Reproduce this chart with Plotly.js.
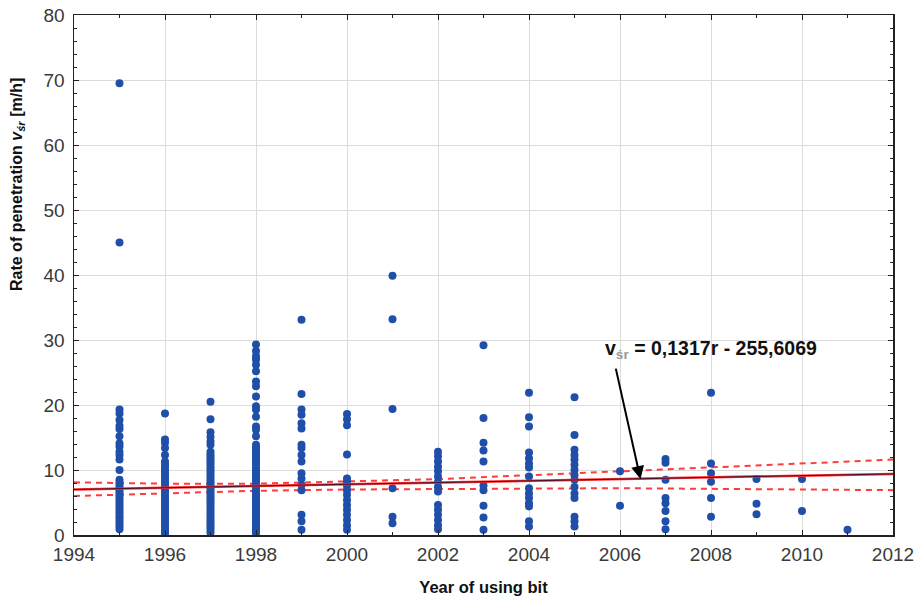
<!DOCTYPE html>
<html>
<head>
<meta charset="utf-8">
<script src="https://cdn.plot.ly/plotly-3.0.1.min.js"></script>
<style>html,body{margin:0;padding:0;background:#fff}#chart{width:920px;height:601px}</style>
</head>
<body>
<div id="chart"></div>
<script>
// Rate of penetration values per year of using bit
const years = [1995, 1996, 1997, 1998, 1999, 2000, 2001, 2002, 2003, 2004, 2005, 2006, 2007, 2008, 2009, 2010, 2011];
const v1995 = [69.5, 45.0, 19.3, 18.7, 17.7, 16.8, 16.3, 15.2, 14.1, 13.6, 12.8, 12.3, 11.6, 10.0, 8.5, 8.1, 7.7, 7.3, 6.9, 6.5, 6.1, 5.7, 5.3, 4.9, 4.5, 4.1, 3.7, 3.3, 2.9, 2.5, 2.1, 1.7, 1.3, 0.9];
const v1996 = [18.7, 14.7, 14.2, 13.4, 12.3, 11.3, 10.9, 10.5, 10.1, 9.7, 9.3, 8.9, 8.5, 8.1, 7.7, 7.3, 6.9, 6.5, 6.1, 5.7, 5.3, 4.9, 4.5, 4.1, 3.7, 3.3, 2.9, 2.5, 2.1, 1.7, 1.3, 0.9, 0.5, 0.2];
const v1997 = [20.5, 17.8, 15.8, 15.1, 14.4, 13.9, 12.8, 12.4, 12.0, 11.6, 11.2, 10.8, 10.4, 10.0, 9.6, 9.2, 8.8, 8.4, 8.0, 7.6, 7.2, 6.8, 6.4, 6.0, 5.6, 5.2, 4.8, 4.4, 4.0, 3.6, 3.2, 2.8, 2.4, 2.0, 1.6, 1.2, 0.8, 0.4];
const v1998 = [29.3, 28.3, 27.5, 27.0, 26.2, 25.2, 23.6, 22.9, 21.3, 19.8, 19.3, 18.2, 16.7, 16.2, 15.2, 13.9, 13.4, 13.0, 12.6, 12.2, 11.8, 11.4, 11.0, 10.6, 10.2, 9.8, 9.4, 9.0, 8.6, 8.2, 7.8, 7.4, 7.0, 6.6, 6.2, 5.8, 5.4, 5.0, 4.6, 4.2, 3.8, 3.4, 3.0, 2.6, 2.2, 1.8, 1.4, 1.0, 0.6, 0.3];
const v1999 = [33.1, 21.7, 19.3, 18.5, 17.2, 16.4, 13.9, 13.4, 12.3, 11.3, 9.5, 8.7, 7.7, 6.9, 3.1, 2.1, 0.8];
const v2000 = [18.6, 17.8, 16.9, 12.4, 8.7, 8.2, 7.6, 6.9, 6.2, 5.4, 4.6, 3.9, 3.1, 2.3, 1.5, 0.8];
const v2001 = [39.9, 33.2, 19.4, 7.2, 2.8, 1.8];
const v2002 = [12.8, 12.1, 11.3, 10.5, 9.8, 9.0, 8.2, 7.4, 6.7, 4.6, 3.9, 3.1, 2.3, 1.5, 0.9];
const v2003 = [29.2, 18.0, 14.2, 13.0, 11.3, 7.6, 6.9, 4.5, 2.7, 0.8];
const v2004 = [21.9, 18.1, 16.7, 12.7, 11.8, 11.0, 10.4, 9.0, 7.2, 6.4, 5.7, 4.9, 4.4, 2.1, 1.3];
const v2005 = [21.2, 15.4, 13.1, 12.3, 11.6, 10.8, 10.0, 9.2, 8.5, 7.4, 6.4, 5.7, 2.8, 2.1, 1.3];
const v2006 = [9.8, 4.5];
const v2007 = [11.7, 11.1, 8.5, 5.7, 4.9, 3.7, 2.1, 0.9];
const v2008 = [21.9, 11.0, 9.5, 8.2, 5.7, 2.8];
const v2009 = [8.6, 4.8, 3.2];
const v2010 = [8.6, 3.7];
const v2011 = [0.8];
const columns = [v1995, v1996, v1997, v1998, v1999, v2000, v2001, v2002, v2003, v2004, v2005, v2006, v2007, v2008, v2009, v2010, v2011];

// Fitted line v = 0,1317r - 255,6069 and its confidence band
const fitX = [1994, 2012];
const fitY = [7.0, 9.4];
const bandX = [1994, 1996, 1998, 2000, 2002, 2004, 2006, 2008, 2010, 2012];
const bandUpper = [8.1, 7.9, 7.9, 8.2, 8.6, 9.2, 9.8, 10.4, 11.0, 11.6];
const bandLower = [6.0, 6.4, 6.8, 7.0, 7.1, 7.2, 7.2, 7.1, 7.0, 6.9];

const xTicks = [1994, 1996, 1998, 2000, 2002, 2004, 2006, 2008, 2010, 2012];
const yTicks = [0, 10, 20, 30, 40, 50, 60, 70, 80];

const px = [], py = [];
columns.forEach((col, i) => col.forEach(v => { px.push(years[i]); py.push(v); }));

const traces = [
  {x: bandX, y: bandUpper, mode: 'lines', line: {color: '#ff3b3b', width: 2, dash: '6px,5px'}, hoverinfo: 'skip'},
  {x: bandX, y: bandLower, mode: 'lines', line: {color: '#ff3b3b', width: 2, dash: '6px,5px'}, hoverinfo: 'skip'},
  {x: px, y: py, mode: 'markers', marker: {color: '#1f4fa8', size: 8}},
  {x: fitX, y: fitY, mode: 'lines', line: {color: '#ff2d2d', width: 2.5}},
  {x: fitX, y: fitY, mode: 'lines', line: {color: '#4a1028', width: 1}}
];

const axisFont = {family: 'Liberation Sans, Arial, sans-serif', size: 19, color: '#3a3a3a'};
const layout = {
  width: 920, height: 601,
  margin: {l: 74, r: 27, t: 15, b: 66},
  paper_bgcolor: '#fff', plot_bgcolor: '#fff',
  showlegend: false,
  xaxis: {
    range: [1994, 2012], tickvals: xTicks, ticktext: xTicks.map(String),
    showgrid: true, gridcolor: '#dcdcdc', gridwidth: 1, zeroline: false,
    showline: true, linecolor: '#222', linewidth: 1.5, mirror: 'ticks',
    ticks: 'inside', ticklen: 5, tickcolor: '#222',
    minor: {dtick: 1, ticks: 'inside', ticklen: 3, tickcolor: '#222', showgrid: false},
    tickfont: axisFont, ticklabelstandoff: 2,
    title: {text: 'Year of using bit', font: {family: 'Liberation Sans, Arial, sans-serif', size: 16.5, color: '#111', weight: 'bold'}, standoff: 17}
  },
  yaxis: {
    range: [0, 80], tickvals: yTicks, ticktext: yTicks.map(String),
    showgrid: true, gridcolor: '#dcdcdc', gridwidth: 1, zeroline: false,
    showline: true, linecolor: '#222', linewidth: 1.5, mirror: 'ticks',
    ticks: 'inside', ticklen: 5, tickcolor: '#222',
    minor: {dtick: 2, ticks: 'inside', ticklen: 3, tickcolor: '#222', showgrid: false},
    tickfont: axisFont, ticklabelstandoff: 4
  },
  annotations: [{
    x: 2006.45, y: 8.6, xref: 'x', yref: 'y',
    ax: -25, ay: -112,
    text: '', showarrow: true, arrowhead: 2, arrowsize: 1.3, arrowwidth: 2, arrowcolor: '#000'
  }, {
    x: 2008.0, y: 28.5, xref: 'x', yref: 'y',
    text: 'v<sub><span style="color:#999">śr</span></sub> = 0,1317r - 255,6069', showarrow: false,
    font: {family: 'Liberation Sans, Arial, sans-serif', size: 19.5, color: '#111', weight: 'bold'}
  }, {
    x: 0, y: 0, xref: 'paper', yref: 'paper', textangle: -90, showarrow: false,
    xanchor: 'center', yanchor: 'middle',
    text: 'Rate of penetration <i>v<sub>śr</sub></i> [m/h]',
    font: {family: 'Liberation Sans, Arial, sans-serif', size: 16, color: '#111', weight: 'bold'}
  }]
};
// y-axis title placed at a pixel position via paper coordinates
const plotW = 920 - 74 - 27, plotH = 601 - 15 - 66;
layout.annotations[2].x = (18 - 74) / plotW;
layout.annotations[2].y = (601 - 66 - 185) / plotH;

Plotly.newPlot('chart', traces, layout, {displayModeBar: false, staticPlot: true});
</script>
</body>
</html>
